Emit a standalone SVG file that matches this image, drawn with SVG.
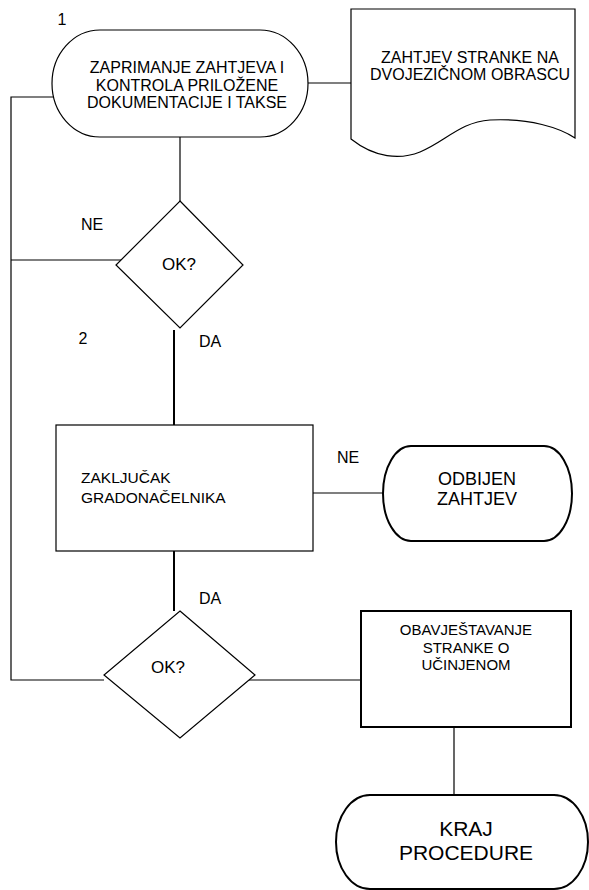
<svg xmlns="http://www.w3.org/2000/svg" width="589" height="890" viewBox="0 0 589 890">
  <style>
    .shape { fill: #fff; stroke: #000; stroke-width: 1.2; }
    .bold { stroke-width: 2; }
    .line { fill: none; stroke: #000; stroke-width: 1.2; }
    .thick { stroke-width: 2; }
    text { font-family: "Liberation Sans", Arial, sans-serif; fill: #000; }
    .c { text-anchor: middle; }
    .lbl { font-size: 16px; }
  </style>

  <!-- connectors -->
  <g id="connectors">
    <line class="line" x1="308" y1="83" x2="351" y2="83"/>
    <polyline class="line" points="56,97 11,97 11,680 104,680"/>
    <line class="line" x1="180" y1="137" x2="180" y2="201"/>
    <line class="line" x1="11" y1="260" x2="128" y2="260"/>
    <line class="line thick" x1="174" y1="330" x2="174" y2="425"/>
    <line class="line" x1="313" y1="493" x2="383" y2="493"/>
    <line class="line thick" x1="174" y1="541" x2="174" y2="611"/>
    <line class="line" x1="245" y1="680" x2="361" y2="680"/>
    <line class="line" x1="454" y1="727" x2="454" y2="795"/>
  </g>

  <!-- labels on connectors -->
  <g id="labels" class="lbl">
    <text x="62" y="25" class="c">1</text>
    <text x="92" y="230" class="c">NE</text>
    <text x="83" y="344" class="c">2</text>
    <text x="210" y="347" class="c">DA</text>
    <text x="348" y="463" class="c">NE</text>
    <text x="210" y="604" class="c">DA</text>
  </g>

  <!-- start: receiving the request -->
  <g id="node-start">
    <path class="shape" d="M100,30 H260 A48,53.5 0 0 1 260,137 H100 A48,53.5 0 0 1 100,30 Z"/>
    <text class="c" font-size="16" x="187" y="73">ZAPRIMANJE ZAHTJEVA I</text>
    <text class="c" font-size="16" x="187" y="91">KONTROLA PRILOŽENE</text>
    <text class="c" font-size="16" x="187" y="108">DOKUMENTACIJE I TAKSE</text>
  </g>

  <!-- document: request form -->
  <g id="node-document">
    <path class="shape" d="M351,9 H575 V138 C560,128 530,118 490,120 C460,122 445,142 420,152 C400,160 375,158 351,139 Z"/>
    <text class="c" font-size="16" x="470" y="63">ZAHTJEV STRANKE NA</text>
    <text class="c" font-size="16" x="470" y="80">DVOJEZIČNOM OBRASCU</text>
  </g>

  <!-- first decision -->
  <g id="node-check1">
    <polygon class="shape" points="180,201 243,265 180,328 116,265"/>
    <text class="c" font-size="17" x="179" y="270">OK?</text>
  </g>

  <!-- mayor's conclusion -->
  <g id="node-conclusion">
    <rect class="shape" x="56" y="425" width="257" height="126"/>
    <text font-size="15.5" x="81" y="483">ZAKLJUČAK</text>
    <text font-size="15.5" x="81" y="503">GRADONAČELNIKA</text>
  </g>

  <!-- rejected request -->
  <g id="node-rejected">
    <path class="shape bold" d="M411,446 H544 A28,47.5 0 0 1 544,541 H411 A28,47.5 0 0 1 411,446 Z"/>
    <text class="c" font-size="18" x="477" y="485">ODBIJEN</text>
    <text class="c" font-size="18" x="477" y="505">ZAHTJEV</text>
  </g>

  <!-- second decision -->
  <g id="node-check2">
    <polygon class="shape" points="180,611 255,675 180,738 104,675"/>
    <text class="c" font-size="17" x="168" y="673">OK?</text>
  </g>

  <!-- notifying the party -->
  <g id="node-notify">
    <rect class="shape bold" x="361" y="611" width="210" height="116"/>
    <text class="c" font-size="15" x="466" y="635">OBAVJEŠTAVANJE</text>
    <text class="c" font-size="15" x="466" y="653">STRANKE O</text>
    <text class="c" font-size="15" x="466" y="670">UČINJENOM</text>
  </g>

  <!-- end of procedure -->
  <g id="node-end">
    <path class="shape bold" d="M370,795 H554 A34,47 0 0 1 554,889 H370 A34,47 0 0 1 370,795 Z"/>
    <text class="c" font-size="21" x="466" y="836">KRAJ</text>
    <text class="c" font-size="21" x="466" y="860">PROCEDURE</text>
  </g>
</svg>
